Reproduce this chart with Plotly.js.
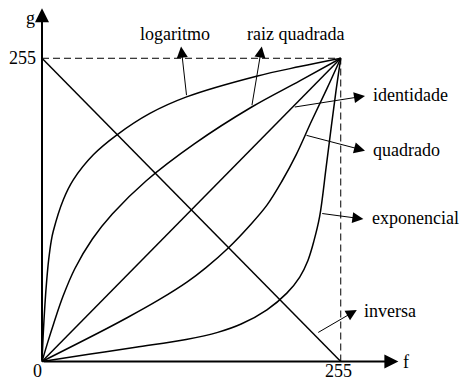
<!DOCTYPE html>
<html>
<head>
<meta charset="utf-8">
<script src="https://cdn.plot.ly/plotly-3.0.1.min.js"></script>
<style>
  html, body { margin: 0; padding: 0; background: #fff; }
  #graph { width: 462px; height: 381px; }
</style>
</head>
<body>
<div id="graph"></div>
<script>
// niveis de cinza: entrada f, saida g
const L = 255;
const tickVals = [0, 255];
const tickLabels = ["0", "255"];

const logF = [0, 1, 2.5, 4, 5.7, 7.9, 9.6, 18.2, 26.7, 44, 63.7, 92.1, 123.4, 183.1, 220, 255];
const logG = [0, 22, 48, 68, 85.6, 101.5, 109.5, 136, 152.7, 174, 190.4, 208.6, 222.5, 239.9, 248, 255];

const raizF = [0, 5, 10, 18, 28, 43, 60, 89, 130, 179, 220, 255];
const raizG = [0, 16.5, 32, 55, 78, 103, 124, 152, 183, 214, 236, 255];

const identF = [0, 255];
const identG = [0, 255];

const quadF = [0, 50, 73, 100, 124, 140, 159, 177, 192, 205, 217, 230, 243, 255];
const quadG = [0, 25, 37, 52, 67, 79, 95.5, 114, 131.5, 152, 174, 202, 229, 255];

const expF = [0, 40, 80, 123, 150, 170, 192, 209, 220, 227, 232, 237, 242.5, 247, 251, 255];
const expG = [0, 6, 12, 18.5, 24.5, 31.5, 43.5, 57.5, 71, 85, 101, 122, 163, 198, 228, 255];

const invF = [0, 255];
const invG = [255, 0];

// rotulos: texto, ponto na curva, ponta da seta, centro do texto
const rotulos = ["logaritmo", "raiz quadrada", "identidade", "quadrado", "exponencial", "inversa"];
const setaDe = [[123.5, 222.7], [179, 214.3], [214.5, 213.8], [224.5, 190.5], [237.9, 124.6], [234.5, 23.7]];
const setaPara = [[118.7, 264.8], [187.6, 264.8], [275.7, 223.3], [275.7, 177.3], [274.3, 119.8], [268.7, 43.3]];
const textoEm = [[113.1, 275.5], [216.8, 275.5], [314.2, 224.1], [310.7, 177.9], [318.4, 120.7], [297.1, 42.7]];

const fonte = { family: "'Liberation Serif', 'Times New Roman', serif", size: 18, color: "#000" };

function curva(x, y) {
    return {
        x: x,
        y: y,
        type: "scatter",
        mode: "lines",
        line: { color: "#000", width: 1.5, shape: "spline", smoothing: 1 },
        hoverinfo: "skip"
    };
}

function tracejado(x, y) {
    return {
        x: x,
        y: y,
        type: "scatter",
        mode: "lines",
        line: { color: "#000", width: 1, dash: "7px,4px" },
        hoverinfo: "skip"
    };
}

const data = [
    tracejado([0, L], [L, L]),
    tracejado([L, L], [0, L]),
    curva(logF, logG),
    curva(raizF, raizG),
    curva(identF, identG),
    curva(quadF, quadG),
    curva(expF, expG),
    curva(invF, invG)
];

function seta(de, para, largura, tamanho) {
    return {
        x: para[0], y: para[1],
        ax: de[0], ay: de[1],
        xref: "x", yref: "y", axref: "x", ayref: "y",
        text: "",
        showarrow: true,
        arrowhead: 2,
        arrowwidth: largura,
        arrowsize: tamanho,
        arrowcolor: "#000",
        standoff: 0
    };
}

function texto(t, pos, dx, dy) {
    return {
        x: pos[0], y: pos[1],
        xref: "x", yref: "y",
        text: t,
        showarrow: false,
        xanchor: "center", yanchor: "middle",
        xshift: dx || 0,
        yshift: dy || 0,
        font: fonte
    };
}

const annotations = [];
// eixos
annotations.push(seta([0, 0], [304.2, 0], 2, 1.4));
annotations.push(seta([0, 0], [0, 297], 2, 1.4));
annotations.push(texto("f", [310.8, -0.4]));
annotations.push(texto("g", [-10.2, 288.9]));
annotations.push(texto(tickLabels[0], [tickVals[0], -10.1], -5, 3));
annotations.push(texto(tickLabels[1], [tickVals[1], -10.1], -2, 3));
annotations.push(texto(tickLabels[1], [-16.6, tickVals[1]]));

for (let i = 0; i < rotulos.length; i++) {
    annotations.push(seta(setaDe[i], setaPara[i], 1, 2.2));
    annotations.push(texto(rotulos[i], textoEm[i]));
}

const layout = {
    width: 462,
    height: 381,
    margin: { l: 0, r: 0, t: 0, b: 0, pad: 0 },
    paper_bgcolor: "#fff",
    plot_bgcolor: "#fff",
    showlegend: false,
    xaxis: { range: [-35.85, 358.5], visible: false, fixedrange: true },
    yaxis: { range: [-16.4, 304.0], visible: false, fixedrange: true },
    annotations: annotations
};

Plotly.newPlot("graph", data, layout, { staticPlot: true });
</script>
</body>
</html>
